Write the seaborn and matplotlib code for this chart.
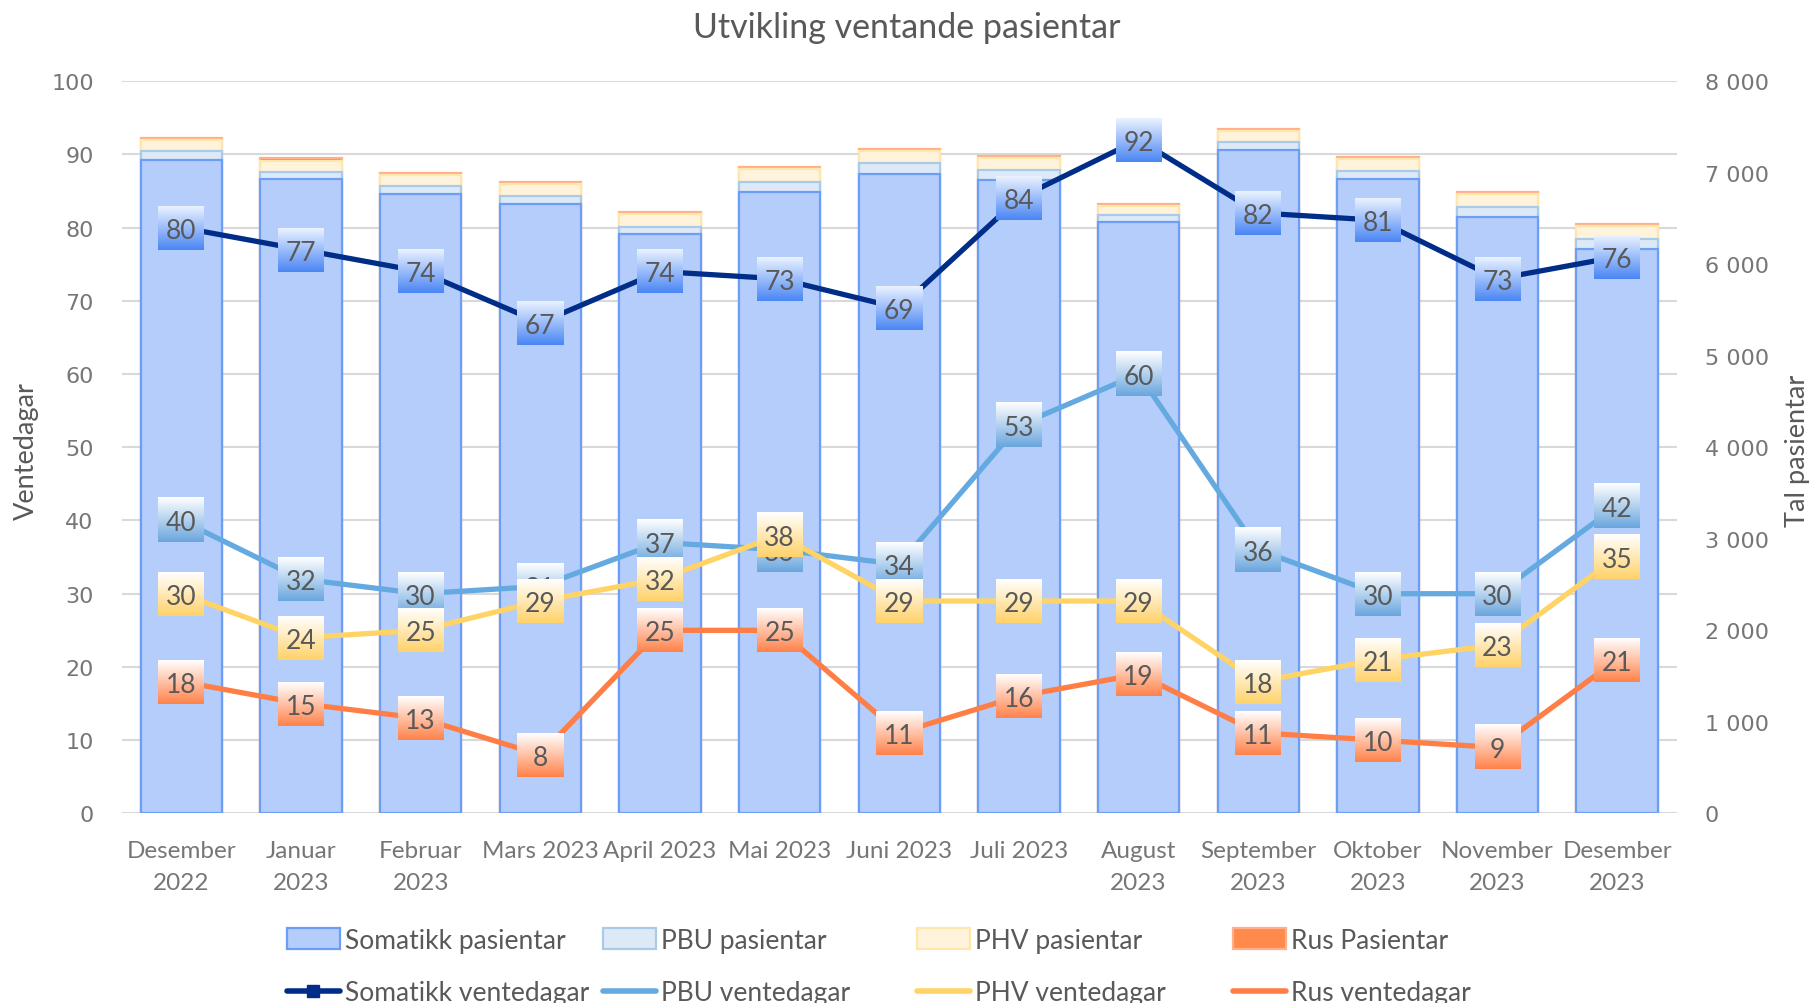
import numpy as np
import pandas as pd
import matplotlib
matplotlib.use("Agg")
import matplotlib.pyplot as plt
import seaborn as sns
from matplotlib.ticker import MultipleLocator, FuncFormatter
from matplotlib.patches import Patch
from matplotlib.lines import Line2D
from matplotlib.colors import to_rgb

# ---------------- data ----------------
months = ["Desember\n2022", "Januar\n2023", "Februar\n2023", "Mars 2023", "April 2023",
          "Mai 2023", "Juni 2023", "Juli 2023", "August\n2023", "September\n2023",
          "Oktober\n2023", "November\n2023", "Desember\n2023"]
som_pas = [7138, 6931, 6770, 6658, 6327, 6789, 6985, 6923, 6464, 7251, 6931, 6516, 6166]
pbu_pas = [102, 80, 81, 90, 83, 106, 117, 110, 77, 81, 91, 112, 109]
phv_pas = [114, 117, 124, 128, 135, 145, 135, 131, 98, 127, 127, 139, 146]
rus_pas = [21, 29, 22, 22, 22, 25, 22, 21, 15, 18, 19, 19, 18]
som_dag = [80, 77, 74, 67, 74, 73, 69, 84, 92, 82, 81, 73, 76]
pbu_dag = [40, 32, 30, 31, 37, 36, 34, 53, 60, 36, 30, 30, 42]
phv_dag = [30, 24, 25, 29, 32, 38, 29, 29, 29, 18, 21, 23, 35]
rus_dag = [18, 15, 13, 8, 25, 25, 11, 16, 19, 11, 10, 9, 21]

# ---------------- style ----------------
sns.set_theme(style="white")
plt.rcParams["font.family"] = ["Lato", "DejaVu Sans"]
TXT = "#595959"
TICK = "#767676"
GRID = "#d9d9d9"

W, H = 1814, 1004
fig = plt.figure(figsize=(W / 100, H / 100), dpi=100)
left, right, top, bottom = 121.5, 1677, 82.1, 814.4
ax = fig.add_axes([left / W, 1 - bottom / H, (right - left) / W, (bottom - top) / H])

df = pd.DataFrame({"month": months, "som": som_pas, "pbu": pbu_pas, "phv": phv_pas, "rus": rus_pas})
df["c1"] = df["som"]
df["c2"] = df["c1"] + df["pbu"]
df["c3"] = df["c2"] + df["phv"]
df["c4"] = df["c3"] + df["rus"]

bar_styles = {
    "c4": ("#ff8a4c", "#ffb08a"),
    "c3": ("#fff3dc", "#ffe6ab"),
    "c2": ("#dde9f7", "#a9cbea"),
    "c1": ("#b4cdfb", "#6d9ef7"),
}
for col in ["c4", "c3", "c2", "c1"]:
    fc, ec = bar_styles[col]
    sns.barplot(data=df, x="month", y=col, color=fc, saturation=1, width=0.68,
                edgecolor=ec, linewidth=1.6, errorbar=None, ax=ax, zorder=2)

ax.set_xlim(-0.5, 12.5)
ax.set_ylim(0, 8000)
ax.set_xlabel("")
ax.set_ylabel("")
ax.yaxis.set_major_locator(MultipleLocator(1000))
ax.yaxis.set_minor_locator(MultipleLocator(800))
ax.yaxis.remove_overlapping_locs = False
ax.yaxis.set_major_formatter(FuncFormatter(lambda v, p: f"{int(v):,}".replace(",", " ")))
ax.grid(False, which="major")
ax.grid(True, which="minor", axis="y", color=GRID, lw=1.5)
ax.set_axisbelow(True)
for s in ax.spines.values():
    s.set_visible(False)

# ---------------- lines ----------------
ax2 = ax.twinx()
ax.yaxis.tick_right()
ax.yaxis.set_label_position("right")
ax2.yaxis.tick_left()
ax2.yaxis.set_label_position("left")
for s in ax2.spines.values():
    s.set_visible(False)

x = np.arange(len(months))
line_styles = [
    (som_dag, "#002d88", ("#eaf2ff", "#4a86f4")),
    (pbu_dag, "#65a9e1", ("#ffffff", "#6aa6de")),
    (phv_dag, "#ffd366", ("#ffffff", "#ffd26a")),
    (rus_dag, "#ff7e45", ("#ffffff", "#ff824a")),
]
for vals, c, _ in line_styles:
    sns.lineplot(x=x, y=vals, ax=ax2, color=c, lw=3.8, legend=False, zorder=3)

ax2.set_xlim(-0.5, 12.5)
ax2.set_ylim(0, 100)
ax2.yaxis.set_major_locator(MultipleLocator(10))
ax2.grid(False)

# tick styling
ax.tick_params(axis="x", which="both", length=0, pad=19.5, labelsize=17.5, labelcolor=TICK)
ax.tick_params(axis="y", which="both", length=0, pad=20, labelsize=16, labelcolor=TICK)
ax2.tick_params(axis="y", which="both", length=0, pad=20, labelsize=16, labelcolor=TICK)
for lab in ax.get_yticklabels() + ax2.get_yticklabels():
    lab.set_family("DejaVu Sans")
for lab in ax.get_xticklabels():
    lab.set_linespacing(1.6)

# ---------------- gradient data labels ----------------
fig.canvas.draw()
bb = ax2.get_window_extent()
px_x = bb.width / 13.0
px_y = bb.height / 100.0
hw = 23 / px_x
hh = 22 / px_y
for k, (vals, c, (ctop, cbot)) in enumerate(line_styles):
    t = np.linspace(0, 1, 64)[:, None, None]
    img = (1 - t) * np.array(to_rgb(ctop))[None, None, :] + t * np.array(to_rgb(cbot))[None, None, :]
    for i, v in enumerate(vals):
        ax2.imshow(img, extent=[i - hw, i + hw, v - hh, v + hh], aspect="auto",
                   origin="upper", interpolation="bilinear", zorder=10 + 2 * k)
        ax2.text(i, v, str(v), ha="center", va="center_baseline", fontsize=19,
                 color=TXT, zorder=11 + 2 * k)
ax2.set_xlim(-0.5, 12.5)
ax2.set_ylim(0, 100)

# ---------------- texts ----------------
fig.text(0.5, 1 - 28.5 / H, "Utvikling ventande pasientar", ha="center", va="center",
         fontsize=24.5, color=TXT)
fig.text(26 / W, 1 - 451 / H, "Ventedagar", rotation=90, ha="center", va="center",
         fontsize=19.5, color=TXT)
fig.text(1797 / W, 1 - 451 / H, "Tal pasientar", rotation=90, ha="center", va="center",
         fontsize=19.5, color=TXT)

# ---------------- legend ----------------
cols = [
    (287, [Patch(facecolor="#b4cdfb", edgecolor="#6d9ef7", linewidth=1.6),
           Line2D([], [], color="#002d88", lw=4, marker="s", markersize=8)],
     ["Somatikk pasientar", "Somatikk ventedagar"]),
    (603, [Patch(facecolor="#dde9f7", edgecolor="#a9cbea", linewidth=1.6),
           Line2D([], [], color="#65a9e1", lw=4)],
     ["PBU pasientar", "PBU ventedagar"]),
    (917, [Patch(facecolor="#fff3dc", edgecolor="#ffe6ab", linewidth=1.6),
           Line2D([], [], color="#ffd366", lw=4)],
     ["PHV pasientar", "PHV ventedagar"]),
    (1233, [Patch(facecolor="#ff8a4c", edgecolor="#ffb08a", linewidth=1.6),
            Line2D([], [], color="#ff7e45", lw=4)],
     ["Rus Pasientar", "Rus ventedagar"]),
]
for xpos, handles, labels in cols:
    leg = fig.legend(handles, labels, loc="center left",
                     bbox_to_anchor=(xpos / W, 1 - 967.5 / H), frameon=False,
                     fontsize=19, handlelength=2.0, handleheight=0.8,
                     handletextpad=0.19, labelspacing=1.05, borderpad=0,
                     borderaxespad=0)
    for tx in leg.get_texts():
        tx.set_color(TXT)

fig.savefig("out.png", dpi=100)
